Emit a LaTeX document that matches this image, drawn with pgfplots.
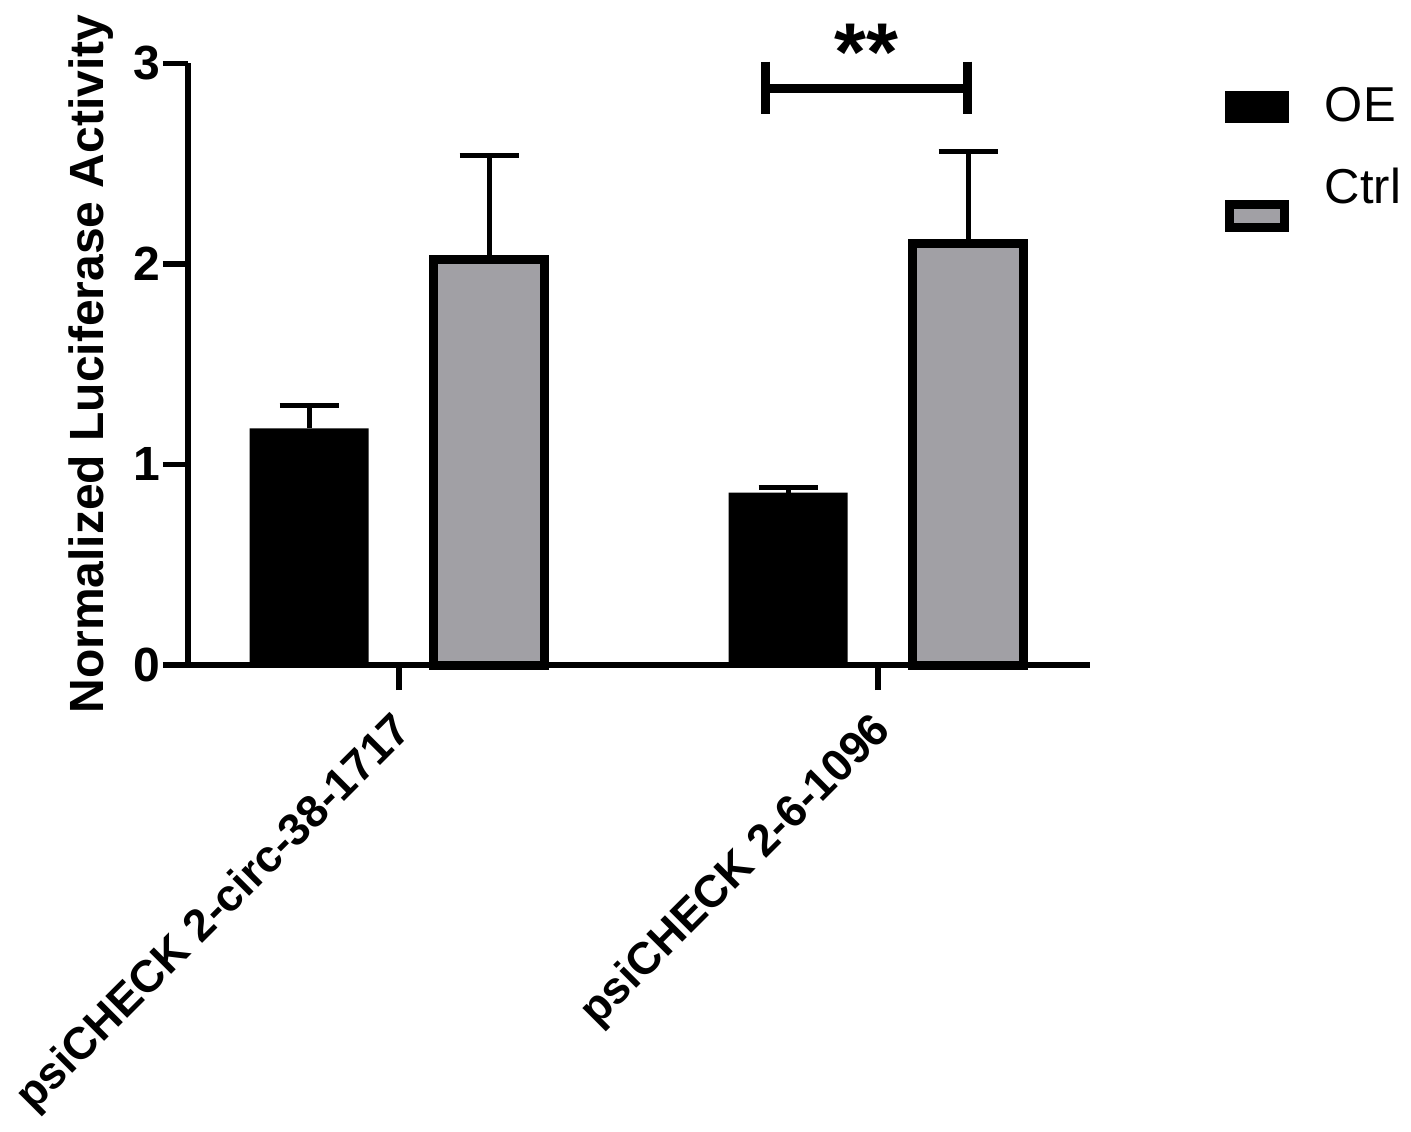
\documentclass[border=0pt]{standalone}
\usepackage{pgfplots}
\pgfplotsset{compat=1.18}
\usepackage{fontspec}
\setmainfont{Liberation Sans}
\definecolor{ctrlgray}{RGB}{161,160,165}
\begin{document}
\begin{tikzpicture}
\path[use as bounding box] (0,0) rectangle (705.5pt,565.5pt);
\begin{axis}[
  at={(94pt,233pt)}, anchor=south west,
  scale only axis,
  width=451pt, height=300.85pt,
  xmin=-0.4405, xmax=1.4426,
  ymin=0, ymax=3,
  ybar,
  axis x line*=bottom, axis y line*=left,
  axis line style={line width=2.75pt, black},
  tick align=outside,
  major tick length=12.5pt,
  every tick/.style={line width=2.75pt, black},
  xtick={0,1},
  xticklabels={psiCHECK 2-circ-38-1717, psiCHECK 2-6-1096},
  ytick={0,1,2,3},
  yticklabels={0,1,2,3},
  /pgf/number format/assume math mode=true,
  yticklabel style={font=\fontsize{24}{28}\selectfont\bfseries, inner sep=1pt},
  xticklabel style={font=\fontsize{22.5}{26}\selectfont\bfseries, xshift=7.5pt, yshift=-21pt, rotate=45, anchor=base east, inner sep=0pt},
  every axis y label/.style={at={(axis description cs:-0.107,0.5)}, rotate=90, anchor=center, inner sep=0pt, font=\fontsize{24}{28}\selectfont\bfseries},
  ylabel={Normalized Luciferase Activity},
  clip=false,
  legend style={at={(axis description cs:1.1497,0.9604)}, anchor=north west, draw=none, fill=none, inner sep=0pt, row sep=21.85pt, column sep=17.75pt, font=\fontsize{24.5}{29}\selectfont, nodes={inner sep=0pt}},
  legend cell align=left,
]
\addplot[fill=black, draw=none, bar width=59.5pt, bar shift=-45pt,
  legend image code/.code={\fill[black] (0pt,-8.5pt) rectangle (32pt,7.5pt);},
  error bars/.cd, y dir=plus, y explicit,
  error bar style={line width=2.5pt, black},
  error mark options={rotate=90, mark size=14.75pt, line width=2.5pt, black}]
  coordinates {(0,1.18) +- (0,0.115) (1,0.86) +- (0,0.025)};
\addlegendentry{OE}
\addplot[fill=ctrlgray, draw=black, line width=4.5pt, bar width=55.5pt, bar shift=45pt,
  legend image code/.code={\draw[fill=ctrlgray, draw=black, line width=4.5pt] (2.25pt,-20pt) rectangle (29.75pt,-8.5pt);},
  error bars/.cd, y dir=plus, y explicit,
  error bar style={line width=2.5pt, black},
  error mark options={rotate=90, mark size=14.75pt, line width=2.5pt, black}]
  coordinates {(0,2.02) +- (0,0.52) (1,2.10) +- (0,0.46)};
\addlegendentry{Ctrl}
\draw[line width=2.75pt] (axis cs:-0.4405,0) -- ++(-12.5pt,0);
\draw[line width=4.3pt] (axis cs:0.7655,3.008) -- (axis cs:0.7655,2.745);
\draw[line width=4.3pt] (axis cs:1.1873,3.008) -- (axis cs:1.1873,2.745);
\draw[line width=4.3pt] (axis cs:0.7655,2.875) -- (axis cs:1.1873,2.875);
\node[font=\fontsize{41}{48}\selectfont\bfseries, anchor=base, inner sep=0pt] at (axis cs:0.975,2.915) {**};
\end{axis}
\end{tikzpicture}
\end{document}
